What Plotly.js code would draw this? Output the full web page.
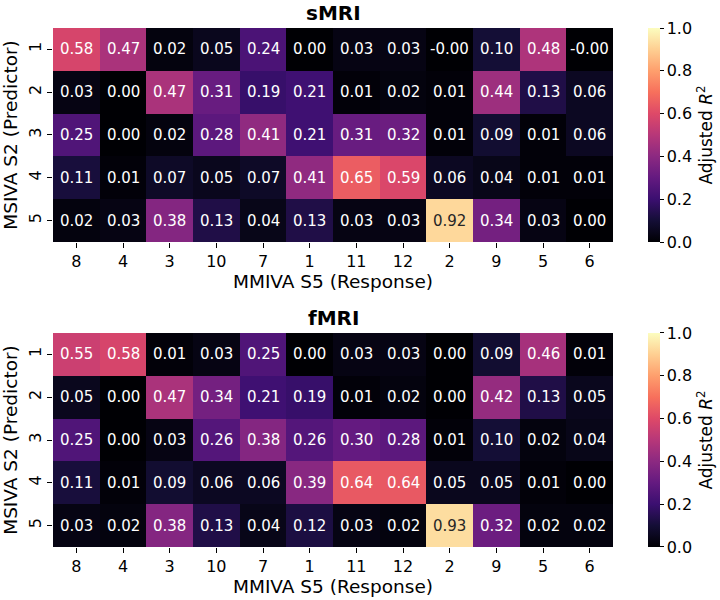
<!DOCTYPE html>
<html><head><meta charset="utf-8">
<script src="https://cdn.plot.ly/plotly-3.0.1.min.js"></script>
<style>body{margin:0;background:#fff}#chart{width:720px;height:600px}</style>
</head><body><div id="chart"></div>
<script>
const responses = ['8','4','3','10','7','1','11','12','2','9','5','6'];
const predictors = ['1','2','3','4','5'];
const smri = [
  [0.58,0.47,0.02,0.05,0.24,0.00,0.03,0.03,-0.001,0.10,0.48,-0.001],
  [0.03,0.00,0.47,0.31,0.19,0.21,0.01,0.02,0.01,0.44,0.13,0.06],
  [0.25,0.00,0.02,0.28,0.41,0.21,0.31,0.32,0.01,0.09,0.01,0.06],
  [0.11,0.01,0.07,0.05,0.07,0.41,0.65,0.59,0.06,0.04,0.01,0.01],
  [0.02,0.03,0.38,0.13,0.04,0.13,0.03,0.03,0.92,0.34,0.03,0.00]
];
const fmri = [
  [0.55,0.58,0.01,0.03,0.25,0.00,0.03,0.03,0.00,0.09,0.46,0.01],
  [0.05,0.00,0.47,0.34,0.21,0.19,0.01,0.02,0.00,0.42,0.13,0.05],
  [0.25,0.00,0.03,0.26,0.38,0.26,0.30,0.28,0.01,0.10,0.02,0.04],
  [0.11,0.01,0.09,0.06,0.06,0.39,0.64,0.64,0.05,0.05,0.01,0.00],
  [0.03,0.02,0.38,0.13,0.04,0.12,0.03,0.02,0.93,0.32,0.02,0.02]
];
const titles = ['sMRI','fMRI'];
const magma = [
  [0.0,'#000004'],[0.1,'#140e36'],[0.2,'#3b0f70'],[0.3,'#641a80'],
  [0.4,'#8c2981'],[0.5,'#b73779'],[0.6,'#de4968'],[0.7,'#f7705c'],
  [0.8,'#fe9f6d'],[0.9,'#fecf92'],[1.0,'#fcfdbf']
];
const font = 'DejaVu Sans, sans-serif';
function hm(z, xa, ya, cby){
  return {
    type:'heatmap', z:z, x:responses, y:predictors, xaxis:xa, yaxis:ya,
    colorscale:magma, zmin:0, zmax:1, hoverinfo:'skip',
    colorbar:{x:1.062, xanchor:'left', xpad:0, thickness:12,
      y:cby, yanchor:'middle', ypad:0, lenmode:'fraction', len:0.4123,
      outlinewidth:0, ticks:'outside', ticklen:4, tickcolor:'#000',
      tickvals:[0,0.2,0.4,0.6,0.8,1.0], ticktext:['0.0','0.2','0.4','0.6','0.8','1.0'],
      tickfont:{family:font,size:16,color:'#000'},
      title:{text:'Adjusted <i>R</i><sup>2</sup>', side:'right', font:{family:font,size:17,color:'#000'}}}
  };
}
function cellAnn(z, xa, ya){
  const out=[];
  z.forEach((row,i)=>row.forEach((v,j)=>{
    out.push({xref:xa, yref:ya, x:j, y:i, text:v.toFixed(2), showarrow:false,
      font:{family:font,size:15,color: v>0.8 ? '#262626' : '#ffffff'}});
  }));
  return out;
}
const axX = (anchor)=>({type:'category', anchor:anchor, ticks:'outside', ticklen:5, tickcolor:'#000',
  tickfont:{family:font,size:16,color:'#000'}, showgrid:false, zeroline:false, showline:false,
  title:{text:'MMIVA S5 (Response)', font:{family:font,size:18.5,color:'#000'}, standoff:4}});
const axY = (anchor, dom)=>({type:'category', anchor:anchor, domain:dom, autorange:'reversed', ticks:'outside', ticklen:5, tickcolor:'#000',
  tickangle:-90, tickfont:{family:font,size:16,color:'#000'}, showgrid:false, zeroline:false, showline:false,
  title:{text:'MSIVA S2 (Predictor)', font:{family:font,size:18.5,color:'#000'}, standoff:4}});
const data = [hm(smri,'x','y',0.7938), hm(fmri,'x2','y2',0.2062)];
const layout = {
  width:720, height:600, margin:{l:53,r:107,t:28,b:53,autoexpand:false},
  paper_bgcolor:'#fff', plot_bgcolor:'#fff', showlegend:false,
  xaxis:axX('y'), yaxis:axY('x',[0.5877,1.0]),
  xaxis2:axX('y2'), yaxis2:axY('x2',[0,0.4123]),
  annotations:[
    {text:'<b>'+titles[0]+'</b>', xref:'paper', yref:'paper', x:0.5, y:1.0, yanchor:'bottom', yshift:1, showarrow:false, font:{family:font,size:20,color:'#000'}},
    {text:'<b>'+titles[1]+'</b>', xref:'paper', yref:'paper', x:0.5, y:0.4123, yanchor:'bottom', yshift:1, showarrow:false, font:{family:font,size:20,color:'#000'}}
  ].concat(cellAnn(smri,'x','y'), cellAnn(fmri,'x2','y2'))
};
Plotly.newPlot('chart', data, layout, {displayModeBar:false, staticPlot:true});
</script></body></html>
